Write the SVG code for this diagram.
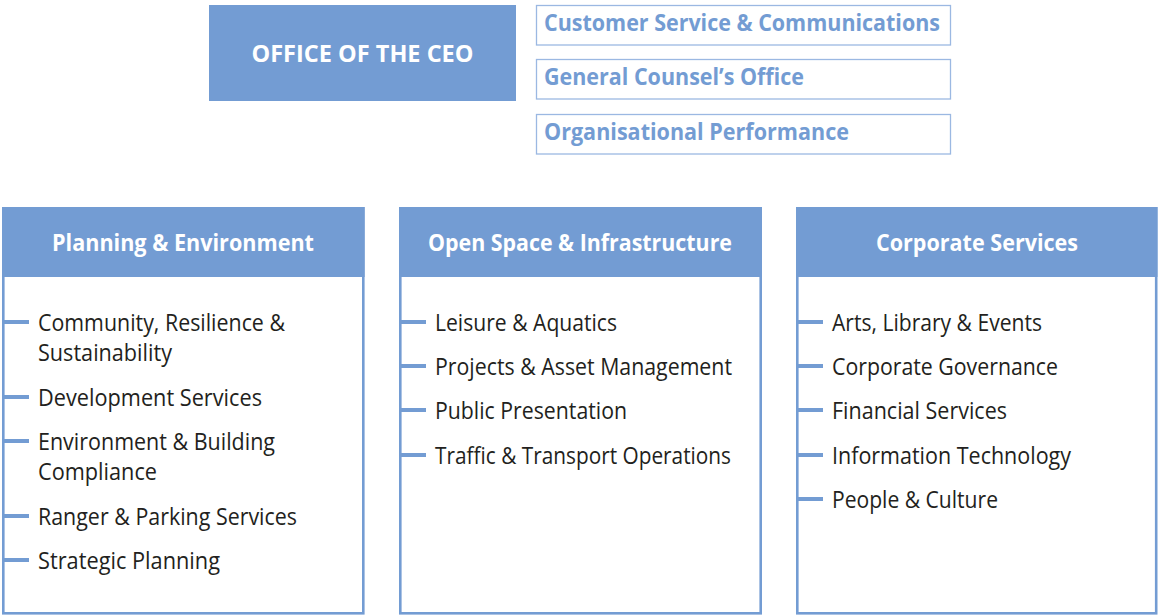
<svg xmlns="http://www.w3.org/2000/svg" width="1158" height="616" viewBox="0 0 1158 616">
<style>
.ceo{fill:#739cd3}
.side{fill:#fff;stroke:#9bb8e2;stroke-width:1.3}
.sidet{font-family:"Open Sans","Liberation Sans",sans-serif;font-weight:700;font-size:22.5px;fill:#739cd3}
.col{fill:#fff;stroke:#739cd3;stroke-width:2.6}
.hdr{fill:#739cd3}
.hdrt{font-family:"Open Sans","Liberation Sans",sans-serif;font-weight:700;font-size:22.5px;fill:#fff;text-anchor:middle}
.item{font-family:"Open Sans","Liberation Sans",sans-serif;font-size:23px;fill:#231f20}
.dash{stroke:#739cd3;stroke-width:4}
</style>
<rect width="1158" height="616" fill="#fff"/>
<g id="ceo">
<rect class="ceo" x="209" y="5" width="307" height="96"/>
<text class="hdrt" x="362.5" y="62" textLength="222" lengthAdjust="spacingAndGlyphs">OFFICE OF THE CEO</text>
</g>
<g id="customer-service">
<rect class="side" x="536.5" y="5.5" width="414" height="39.5"/>
<text class="sidet" x="544" y="31" textLength="396" lengthAdjust="spacingAndGlyphs">Customer Service &amp; Communications</text>
</g>
<g id="general-counsel">
<rect class="side" x="536.5" y="59.5" width="414" height="39.5"/>
<text class="sidet" x="544" y="85" textLength="260" lengthAdjust="spacingAndGlyphs">General Counsel’s Office</text>
</g>
<g id="org-performance">
<rect class="side" x="536.5" y="114.5" width="414" height="39.5"/>
<text class="sidet" x="544" y="140" textLength="305" lengthAdjust="spacingAndGlyphs">Organisational Performance</text>
</g>
<g id="planning-environment">
<rect class="col" x="3.3" y="208.3" width="360" height="405"/>
<rect class="hdr" x="2" y="207" width="362.6" height="70"/>
<text class="hdrt" x="183" y="250.5" textLength="262" lengthAdjust="spacingAndGlyphs">Planning &amp; Environment</text>
<text class="item" x="38" y="331" textLength="247" lengthAdjust="spacingAndGlyphs">Community, Resilience &amp;</text>
<text class="item" x="38" y="361" textLength="134" lengthAdjust="spacingAndGlyphs">Sustainability</text>
<text class="item" x="38" y="405.5" textLength="224" lengthAdjust="spacingAndGlyphs">Development Services</text>
<text class="item" x="38" y="450" textLength="237" lengthAdjust="spacingAndGlyphs">Environment &amp; Building</text>
<text class="item" x="38" y="480" textLength="119" lengthAdjust="spacingAndGlyphs">Compliance</text>
<text class="item" x="38" y="524.5" textLength="259" lengthAdjust="spacingAndGlyphs">Ranger &amp; Parking Services</text>
<text class="item" x="38" y="569" textLength="182" lengthAdjust="spacingAndGlyphs">Strategic Planning</text>
</g>
<g id="open-space-infrastructure">
<rect class="col" x="400.3" y="208.3" width="360.4" height="405"/>
<rect class="hdr" x="399" y="207" width="363" height="70"/>
<text class="hdrt" x="580" y="250.5" textLength="304" lengthAdjust="spacingAndGlyphs">Open Space &amp; Infrastructure</text>
<text class="item" x="435" y="331" textLength="182" lengthAdjust="spacingAndGlyphs">Leisure &amp; Aquatics</text>
<text class="item" x="435" y="375" textLength="297" lengthAdjust="spacingAndGlyphs">Projects &amp; Asset Management</text>
<text class="item" x="435" y="419" textLength="192" lengthAdjust="spacingAndGlyphs">Public Presentation</text>
<text class="item" x="435" y="464" textLength="296" lengthAdjust="spacingAndGlyphs">Traffic &amp; Transport Operations</text>
</g>
<g id="corporate-services">
<rect class="col" x="797.3" y="208.3" width="358.9" height="405"/>
<rect class="hdr" x="796" y="207" width="361.5" height="70"/>
<text class="hdrt" x="977" y="250.5" textLength="202" lengthAdjust="spacingAndGlyphs">Corporate Services</text>
<text class="item" x="832" y="331" textLength="210" lengthAdjust="spacingAndGlyphs">Arts, Library &amp; Events</text>
<text class="item" x="832" y="375" textLength="226" lengthAdjust="spacingAndGlyphs">Corporate Governance</text>
<text class="item" x="832" y="419" textLength="175" lengthAdjust="spacingAndGlyphs">Financial Services</text>
<text class="item" x="832" y="464" textLength="239" lengthAdjust="spacingAndGlyphs">Information Technology</text>
<text class="item" x="832" y="508" textLength="166" lengthAdjust="spacingAndGlyphs">People &amp; Culture</text>
</g>
<g id="connectors">
<line class="dash" x1="4" y1="322" x2="29" y2="322"/>
<line class="dash" x1="4" y1="397" x2="29" y2="397"/>
<line class="dash" x1="4" y1="441" x2="29" y2="441"/>
<line class="dash" x1="4" y1="516" x2="29" y2="516"/>
<line class="dash" x1="4" y1="560" x2="29" y2="560"/>
<line class="dash" x1="401" y1="322" x2="426" y2="322"/>
<line class="dash" x1="401" y1="366" x2="426" y2="366"/>
<line class="dash" x1="401" y1="410" x2="426" y2="410"/>
<line class="dash" x1="401" y1="455" x2="426" y2="455"/>
<line class="dash" x1="798" y1="322" x2="823" y2="322"/>
<line class="dash" x1="798" y1="366" x2="823" y2="366"/>
<line class="dash" x1="798" y1="410" x2="823" y2="410"/>
<line class="dash" x1="798" y1="455" x2="823" y2="455"/>
<line class="dash" x1="798" y1="499" x2="823" y2="499"/>
</g>
</svg>
